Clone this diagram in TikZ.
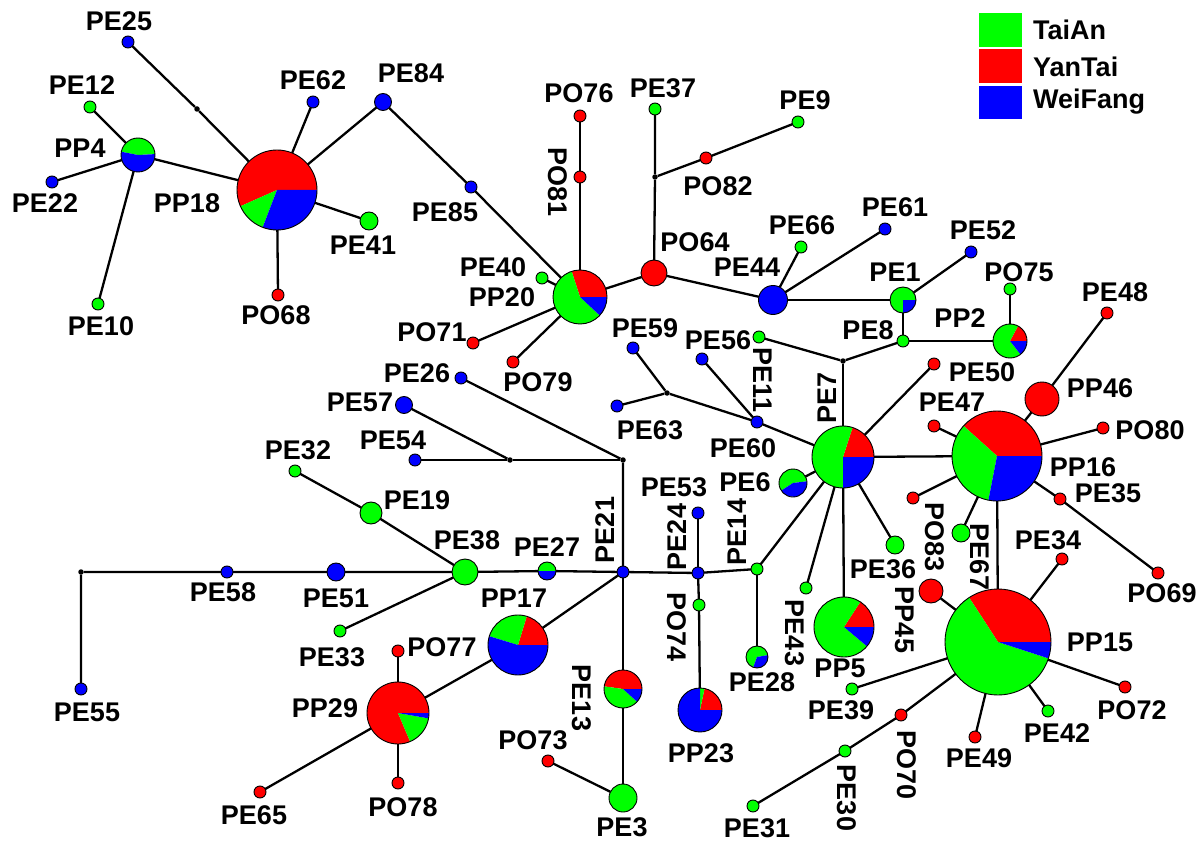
\documentclass[tikz,border=0pt]{standalone}
\usepackage{fontspec}
\setmainfont{Liberation Sans}
\pgfdeclarelayer{bg}
\pgfsetlayers{bg,main}
\tikzset{
  hap/.style={circle, draw=black, line width=0.9pt, inner sep=0pt, outer sep=0pt},
  dot/.style={hap, minimum size=12pt},
  med/.style={circle, fill=black, inner sep=0pt, minimum size=5.5pt},
  link/.style={line width=2.3pt, black},
  lab/.style={font=\fontsize{27}{29}\selectfont\bfseries, inner sep=0pt},
  key/.style={font=\fontsize{27}{29}\selectfont\bfseries, inner sep=0pt, anchor=west},
}
% pie-chart haplotype: name, centre, radius (pt), slices start/end/colour
\newcommand\pienode[4]{%
  \foreach \sa/\sb/\sc in {#4}{%
    \fill[\sc] (#2) -- ++(\sa:#3pt) arc[start angle=\sa, end angle=\sb, radius=#3pt] -- cycle;}
  \node[hap, minimum size=2*#3pt] (#1) at (#2) {};
}
% haplotype label
\newcommand\lab[3][]{\node[lab,#1] (l#2) at (#3) {#2};}
\begin{document}
\begin{tikzpicture}[x=1pt,y=-1pt]
\useasboundingbox (0,0) rectangle (1200,845);

% ---- pie-chart haplotypes
\pienode{PP4}{138,155}{17}{3/169/green,169/363/blue}
\pienode{PP18}{277,190}{40}{0/204/red,204/249/green,249/360/blue}
\pienode{PP20}{580,297}{27}{0/108/red,108/317/green,317/360/blue}
\pienode{PE1}{903,300}{13}{0/270/green,270/360/blue}
\pienode{PP2}{1010,341}{17}{0/62/red,62/308/green,308/360/blue}
\pienode{PE7}{843,457}{31}{0/72/red,72/270/green,270/360/blue}
\pienode{PE6}{793,483}{14}{7/213/green,213/367/blue}
\pienode{PP16}{997,456}{45}{0/138/red,138/259/green,259/360/blue}
\pienode{PP5}{844,627}{30}{0/57/red,57/320/green,320/360/blue}
\pienode{PP15}{998,642}{53}{0/123/red,123/342/green,342/360/blue}
\pienode{PE28}{757,657}{11}{10/250/green,250/370/blue}
\pienode{PE27}{547,571}{9}{0/180/green,180/360/blue}
\pienode{PP17}{518,645}{30}{0/73/red,73/163/green,163/360/blue}
\pienode{PP29}{398,713}{31}{0/293/red,293/350/green,350/360/blue}
\pienode{PE13}{623,689}{19}{0/172/red,172/318/green,318/360/blue}
\pienode{PP23}{700,710}{22}{0/78/red,78/90/green,90/360/blue}

% ---- single-population haplotypes
\node[dot, fill=blue] (PE25) at (128,42) {};
\node[dot, fill=green] (PE12) at (90,107) {};
\node[dot, fill=blue] (PE22) at (52,182) {};
\node[dot, fill=green] (PE10) at (98,304) {};
\node[dot, fill=blue] (PE62) at (313,102) {};
\node[hap, fill=blue, minimum size=17pt] (PE84) at (383,102) {};
\node[hap, fill=green, minimum size=18pt] (PE41) at (369,221) {};
\node[dot, fill=red] (PO68) at (278,295) {};
\node[dot, fill=blue] (PE85) at (471,187) {};
\node[dot, fill=red] (PO76) at (580,116) {};
\node[dot, fill=red] (PO81) at (580,177) {};
\node[dot, fill=green] (PE37) at (655,109) {};
\node[dot, fill=red] (PO82) at (706,158) {};
\node[dot, fill=green] (PE9) at (798,122) {};
\node[hap, fill=red, minimum size=26pt] (PO64) at (654,273) {};
\node[hap, fill=blue, minimum size=29pt] (PE44) at (773,300) {};
\node[dot, fill=green] (PE66) at (801,247) {};
\node[dot, fill=blue] (PE61) at (885,229) {};
\node[dot, fill=blue] (PE52) at (971,252) {};
\node[dot, fill=green] (PE8) at (903,341) {};
\node[dot, fill=green] (PO75) at (1010,289) {};
\node[dot, fill=red] (PE48) at (1107,313) {};
\node[dot, fill=green] (PE40) at (542,278) {};
\node[dot, fill=red] (PO71) at (473,343) {};
\node[dot, fill=red] (PO79) at (513,362) {};
\node[dot, fill=blue] (PE59) at (633,348) {};
\node[dot, fill=blue] (PE56) at (702,359) {};
\node[dot, fill=green] (PE11) at (759,337) {};
\node[dot, fill=blue] (PE60) at (757,422) {};
\node[dot, fill=blue] (PE63) at (617,406) {};
\node[dot, fill=red] (PE50) at (934,364) {};
\node[dot, fill=red] (PE47) at (934,426) {};
\node[hap, fill=red, minimum size=34pt] (PP46) at (1042,399) {};
\node[dot, fill=red] (PO80) at (1103,428) {};
\node[dot, fill=red] (PE35) at (1060,499) {};
\node[dot, fill=red] (PO69) at (1158,573) {};
\node[dot, fill=red] (PO83) at (913,498) {};
\node[hap, fill=green, minimum size=18pt] (PE67) at (961,533) {};
\node[hap, fill=green, minimum size=18pt] (PE36) at (895,545) {};
\node[hap, fill=red, minimum size=24pt] (PP45) at (931,591) {};
\node[dot, fill=red] (PE34) at (1062,559) {};
\node[dot, fill=red] (PO72) at (1125,687) {};
\node[dot, fill=green] (PE42) at (1048,711) {};
\node[dot, fill=red] (PE49) at (975,737) {};
\node[dot, fill=green] (PE39) at (852,689) {};
\node[dot, fill=red] (PO70) at (901,715) {};
\node[dot, fill=green] (PE30) at (845,751) {};
\node[dot, fill=green] (PE31) at (753,806) {};
\node[dot, fill=green] (PE43) at (806,588) {};
\node[dot, fill=green] (PE14) at (757,569) {};
\node[dot, fill=blue] (PE53) at (698,513) {};
\node[dot, fill=blue] (PE24) at (698,573) {};
\node[dot, fill=green] (PO74) at (699,605) {};
\node[dot, fill=blue] (PE21) at (623,572) {};
\node[dot, fill=blue] (PE26) at (461,378) {};
\node[hap, fill=blue, minimum size=17pt] (PE57) at (404,405) {};
\node[dot, fill=blue] (PE54) at (415,460) {};
\node[dot, fill=green] (PE32) at (295,471) {};
\node[hap, fill=green, minimum size=22pt] (PE19) at (371,513) {};
\node[hap, fill=green, minimum size=26pt] (PE38) at (465,572) {};
\node[hap, fill=blue, minimum size=18pt] (PE51) at (336,572) {};
\node[dot, fill=blue] (PE58) at (227,572) {};
\node[dot, fill=blue] (PE55) at (81,689) {};
\node[dot, fill=green] (PE33) at (340,631) {};
\node[dot, fill=red] (PO77) at (398,651) {};
\node[dot, fill=red] (PO78) at (398,783) {};
\node[dot, fill=red] (PE65) at (260,792) {};
\node[dot, fill=red] (PO73) at (548,761) {};
\node[hap, fill=green, minimum size=28pt] (PE3) at (623,798) {};

% ---- median vectors
\node[med] (m1) at (197,109) {};
\node[med] (m2) at (655,177) {};
\node[med] (m3) at (843,361) {};
\node[med] (m4) at (667,393) {};
\node[med] (m5) at (623,460) {};
\node[med] (m6) at (510,460) {};
\node[med] (m7) at (81,572) {};

% ---- mutational links
\begin{pgfonlayer}{bg}
\draw[link] (PE25) -- (m1) -- (PP18);
\draw[link] (PE12) -- (PP4);
\draw[link] (PE22) -- (PP4);
\draw[link] (PE10) -- (PP4);
\draw[link] (PP4) -- (PP18);
\draw[link] (PE62) -- (PP18);
\draw[link] (PE84) -- (PP18);
\draw[link] (PE41) -- (PP18);
\draw[link] (PO68) -- (PP18);
\draw[link] (PE84) -- (PE85) -- (PP20);
\draw[link] (PE40) -- (PP20);
\draw[link] (PO71) -- (PP20);
\draw[link] (PO79) -- (PP20);
\draw[link] (PP20) -- (PO81) -- (PO76);
\draw[link] (PP20) -- (PO64);
\draw[link] (PO64) -- (m2) -- (PE37);
\draw[link] (m2) -- (PO82) -- (PE9);
\draw[link] (PO64) -- (PE44);
\draw[link] (PE44) -- (PE66);
\draw[link] (PE44) -- (PE61);
\draw[link] (PE44) -- (PE1);
\draw[link] (PE1) -- (PE52);
\draw[link] (PE1) -- (PE8);
\draw[link] (PE8) -- (PP2);
\draw[link] (PP2) -- (PO75);
\draw[link] (PE8) -- (m3);
\draw[link] (PE11) -- (m3);
\draw[link] (m3) -- (PE7);
\draw[link] (PE59) -- (m4);
\draw[link] (PE63) -- (m4);
\draw[link] (m4) -- (PE60);
\draw[link] (PE56) -- (PE60);
\draw[link] (PE60) -- (PE7);
\draw[link] (PE7) -- (PE6);
\draw[link] (PE7) -- (PE50);
\draw[link] (PE7) -- (PP16);
\draw[link] (PE7) -- (PE14);
\draw[link] (PE7) -- (PE43);
\draw[link] (PE7) -- (PP5);
\draw[link] (PE7) -- (PE36);
\draw[link] (PP16) -- (PP46) -- (PE48);
\draw[link] (PP16) -- (PE47);
\draw[link] (PP16) -- (PO80);
\draw[link] (PP16) -- (PE35) -- (PO69);
\draw[link] (PP16) -- (PO83);
\draw[link] (PP16) -- (PE67);
\draw[link] (PP16) -- (PP15);
\draw[link] (PP15) -- (PE34);
\draw[link] (PP15) -- (PP45);
\draw[link] (PP15) -- (PO72);
\draw[link] (PP15) -- (PE42);
\draw[link] (PP15) -- (PE49);
\draw[link] (PP15) -- (PE39);
\draw[link] (PP15) -- (PO70) -- (PE30) -- (PE31);
\draw[link] (PE14) -- (PE24) -- (PE21);
\draw[link] (PE14) -- (PE28);
\draw[link] (PE24) -- (PE53);
\draw[link] (PE24) -- (PO74) -- (PP23);
\draw[link] (PE21) -- (m5) -- (PE26);
\draw[link] (m5) -- (m6) -- (PE54);
\draw[link] (m6) -- (PE57);
\draw[link] (PE21) -- (PE27) -- (PE38) -- (PE51) -- (PE58) -- (m7) -- (PE55);
\draw[link] (PE38) -- (PE19) -- (PE32);
\draw[link] (PE38) -- (PE33);
\draw[link] (PE21) -- (PP17) -- (PP29);
\draw[link] (PP29) -- (PO77);
\draw[link] (PP29) -- (PO78);
\draw[link] (PP29) -- (PE65);
\draw[link] (PE21) -- (PE13) -- (PE3);
\draw[link] (PE3) -- (PO73);
\end{pgfonlayer}

% ---- haplotype labels
\lab{PE25}{119,21}
\lab{PE12}{82,85}
\lab{PP4}{80,148}
\lab{PE22}{45,203}
\lab{PE10}{101,326}
\lab{PP18}{187,203}
\lab{PE62}{313,80}
\lab{PE84}{411,73}
\lab{PE41}{363,245}
\lab{PO68}{276,315}
\lab{PE85}{445,212}
\lab{PO76}{579,93}
\lab[rotate=-90]{PO81}{558,182}
\lab{PE37}{663,88}
\lab{PO82}{718,186}
\lab{PE9}{805,100}
\lab{PO64}{695,242}
\lab{PE44}{747,267}
\lab{PE66}{802,225}
\lab{PE61}{895,207}
\lab{PE52}{983,230}
\lab{PE1}{895,272}
\lab{PE8}{868,330}
\lab{PO75}{1019,272}
\lab{PP2}{960,318}
\lab{PE48}{1115,292}
\lab{PE40}{493,267}
\lab{PP20}{502,297}
\lab{PO71}{432,332}
\lab{PO79}{538,382}
\lab{PE59}{645,328}
\lab{PE56}{718,340}
\lab[rotate=-90]{PE11}{763,380}
\lab[rotate=90]{PE7}{827,398}
\lab{PE50}{982,372}
\lab{PP46}{1100,388}
\lab{PE47}{952,402}
\lab{PO80}{1150,430}
\lab{PP16}{1083,467}
\lab{PE35}{1108,493}
\lab{PE60}{743,448}
\lab{PE63}{650,430}
\lab{PE6}{745,482}
\lab{PE53}{674,487}
\lab[rotate=90]{PE24}{677,537}
\lab[rotate=90]{PE14}{737,532}
\lab[rotate=90]{PE21}{605,530}
\lab[rotate=-90]{PO83}{935,537}
\lab[rotate=-90]{PE67}{980,557}
\lab{PE34}{1048,540}
\lab{PE36}{883,569}
\lab{PO69}{1162,593}
\lab[rotate=-90]{PP45}{905,620}
\lab[rotate=-90]{PE43}{795,633}
\lab{PP5}{840,668}
\lab{PP15}{1100,642}
\lab{PE28}{762,682}
\lab{PO72}{1132,710}
\lab{PE39}{841,710}
\lab{PE42}{1057,733}
\lab{PE49}{979,758}
\lab[rotate=-90]{PO70}{907,765}
\lab[rotate=-90]{PE30}{847,798}
\lab{PE31}{757,828}
\lab[rotate=-90]{PO74}{677,627}
\lab{PP23}{701,753}
\lab[rotate=-90]{PE13}{582,698}
\lab{PO73}{533,740}
\lab{PE3}{622,827}
\lab{PO78}{403,807}
\lab{PE65}{254,815}
\lab{PP29}{325,708}
\lab{PO77}{442,647}
\lab{PE33}{332,657}
\lab{PP17}{514,598}
\lab{PE38}{467,540}
\lab{PE27}{547,547}
\lab{PE51}{336,598}
\lab{PE58}{223,592}
\lab{PE55}{87,712}
\lab{PE19}{417,500}
\lab{PE32}{298,450}
\lab{PE54}{393,440}
\lab{PE57}{360,402}
\lab{PE26}{417,373}

% ---- legend
\fill[green] (979,13) rectangle (1022,47);
\fill[red] (979,49) rectangle (1022,83);
\fill[blue] (979,86) rectangle (1022,119);
\node[key] (kTA) at (1033,30) {TaiAn};
\node[key] (kYT) at (1033,67) {YanTai};
\node[key] (kWF) at (1033,102) {WeiFang};
\end{tikzpicture}
\end{document}
